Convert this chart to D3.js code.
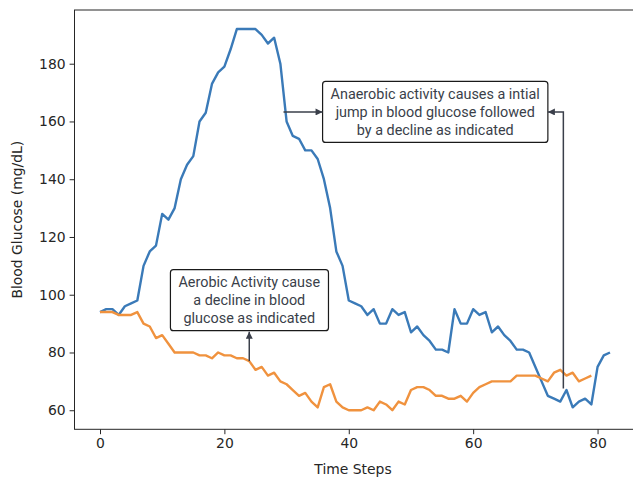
<!DOCTYPE html>
<html>
<head>
<meta charset="utf-8">
<script src="https://cdn.jsdelivr.net/npm/d3@7"></script>
<style>
  body { margin: 0; background: #fff; }
  svg { display: block; }
  .tick text { font-family: "DejaVu Sans", sans-serif; font-size: 13.9px; fill: #262626; }
  .tick line { stroke: #262626; }
  .domain { stroke: #262626; }
</style>
</head>
<body>
<svg width="633" height="479"></svg>
<script>
// blood glucose readings per time step
const anaerobic = [94, 95, 95, 93, 96, 97, 98, 110, 115, 117, 128, 126, 130, 140, 145, 148, 160, 163, 173, 177,
  179, 185, 192, 192, 192, 192, 190, 187, 189, 180, 160, 155, 154, 150, 150, 147, 140, 130, 115, 110,
  98, 97, 96, 93, 95, 90, 90, 95, 93, 94, 87, 89, 86, 84, 81, 81, 80, 95, 90, 90,
  95, 93, 94, 87, 89, 86, 84, 81, 81, 80, 75, 70, 65, 64, 63, 67, 61, 63, 64, 62,
  75, 79, 80];
const aerobic = [94, 94, 94, 93, 93, 93, 94, 90, 89, 85, 86, 83, 80, 80, 80, 80, 79, 79, 78, 80,
  79, 79, 78, 78, 77, 74, 75, 72, 73, 70, 69, 67, 65, 66, 63, 61, 68, 69, 63, 61,
  60, 60, 60, 61, 60, 63, 62, 60, 63, 62, 67, 68, 68, 67, 65, 65, 64, 64, 65, 63,
  66, 68, 69, 70, 70, 70, 70, 72, 72, 72, 72, 71, 70, 73, 74, 72, 73, 70, 71, 72];
const xTicks = [0, 20, 40, 60, 80];
const yTicks = [60, 80, 100, 120, 140, 160, 180];

// annotations: text lines, text anchor (data coords), arrow points (data coords)
const notes = [
  { lines: ["Anaerobic activity causes a intial", "jump in blood glucose followed", "by a decline as indicated"],
    at: [53.9, 163.3], left: [29.5, 163.3], right: [74.5, 67.5] },
  { lines: ["Aerobic Activity cause", "a decline in blood", "glucose as indicated"],
    at: [24, 98.1], below: [24, 77] }
];

const svg = d3.select("svg");
const margin = {left: 74.5, top: 10, right: 635.5, bottom: 429.3};

const x = d3.scaleLinear().domain([-4.1, 86.1]).range([margin.left, margin.right]);
const y = d3.scaleLinear().domain([53.4, 198.6]).range([margin.bottom, margin.top]);

// frame
svg.append("rect")
  .attr("x", margin.left).attr("y", margin.top)
  .attr("width", margin.right - margin.left).attr("height", margin.bottom - margin.top)
  .attr("fill", "none").attr("stroke", "#262626").attr("stroke-width", 1);

const line = d3.line().x((d, i) => x(i)).y(d => y(d));

svg.append("path").datum(anaerobic)
  .attr("d", line).attr("fill", "none")
  .attr("stroke", "#3a7ab8").attr("stroke-width", 2.4).attr("stroke-linejoin", "round");
svg.append("path").datum(aerobic)
  .attr("d", line).attr("fill", "none")
  .attr("stroke", "#f0923e").attr("stroke-width", 2.4).attr("stroke-linejoin", "round");

// axes
svg.append("g")
  .attr("transform", "translate(0," + margin.bottom + ")")
  .call(d3.axisBottom(x).tickValues(xTicks).tickSize(4.9).tickPadding(4))
  .call(g => g.select(".domain").remove());
svg.append("g")
  .attr("transform", "translate(" + margin.left + ",0)")
  .call(d3.axisLeft(y).tickValues(yTicks).tickSize(4.9).tickPadding(4))
  .call(g => g.select(".domain").remove());

svg.append("text")
  .attr("x", 353).attr("y", 474)
  .attr("text-anchor", "middle")
  .style("font-family", "DejaVu Sans, sans-serif").style("font-size", "13.9px").attr("fill", "#262626")
  .text("Time Steps");
svg.append("text")
  .attr("transform", "translate(22," + (margin.top + margin.bottom) / 2 + ") rotate(-90)")
  .attr("text-anchor", "middle")
  .style("font-family", "DejaVu Sans, sans-serif").style("font-size", "13.9px").attr("fill", "#262626")
  .text("Blood Glucose (mg/dL)");

// arrowhead
svg.append("defs").append("marker")
  .attr("id", "head").attr("viewBox", "0 0 10 10")
  .attr("refX", 10).attr("refY", 5)
  .attr("markerWidth", 9).attr("markerHeight", 7).attr("markerUnits", "userSpaceOnUse")
  .attr("orient", "auto")
  .append("path").attr("d", "M0,0 L10,5 L0,10 z").attr("fill", "#3a3f4a");

notes.forEach(n => {
  const cx = x(n.at[0]), cy = y(n.at[1]);
  const g = svg.append("g");
  const txt = g.append("text")
    .attr("text-anchor", "middle")
    .style("font-family", "Roboto, sans-serif").style("font-size", "14.4px").attr("fill", "#3a3f4a");
  n.lines.forEach((l, i) => {
    txt.append("tspan").attr("x", cx).attr("y", cy + (i - 1) * 17.8 + 5).text(l);
  });
  const bb = txt.node().getBBox();
  const box = {x: bb.x - 8, y: cy - 30.5, w: bb.width + 16, h: 61};
  g.insert("rect", "text")
    .attr("x", box.x).attr("y", box.y).attr("width", box.w).attr("height", box.h)
    .attr("rx", 3).attr("fill", "#fff").attr("stroke", "#1a1a1a").attr("stroke-width", 1.2);

  if (n.left) {
    svg.append("path")
      .attr("d", "M" + x(n.left[0]) + "," + y(n.left[1]) + " L" + box.x + "," + y(n.left[1]))
      .attr("stroke", "#3a3f4a").attr("stroke-width", 1.5).attr("marker-end", "url(#head)");
  }
  if (n.right) {
    svg.append("path")
      .attr("d", "M" + x(n.right[0]) + "," + y(n.right[1]) + " L" + x(n.right[0]) + "," + cy + " L" + (box.x + box.w) + "," + cy)
      .attr("fill", "none").attr("stroke", "#3a3f4a").attr("stroke-width", 1.5).attr("marker-end", "url(#head)");
  }
  if (n.below) {
    svg.append("path")
      .attr("d", "M" + x(n.below[0]) + "," + y(n.below[1]) + " L" + x(n.below[0]) + "," + (box.y + box.h + 1))
      .attr("stroke", "#3a3f4a").attr("stroke-width", 1.5).attr("marker-end", "url(#head)");
  }
});
</script>
</body>
</html>
